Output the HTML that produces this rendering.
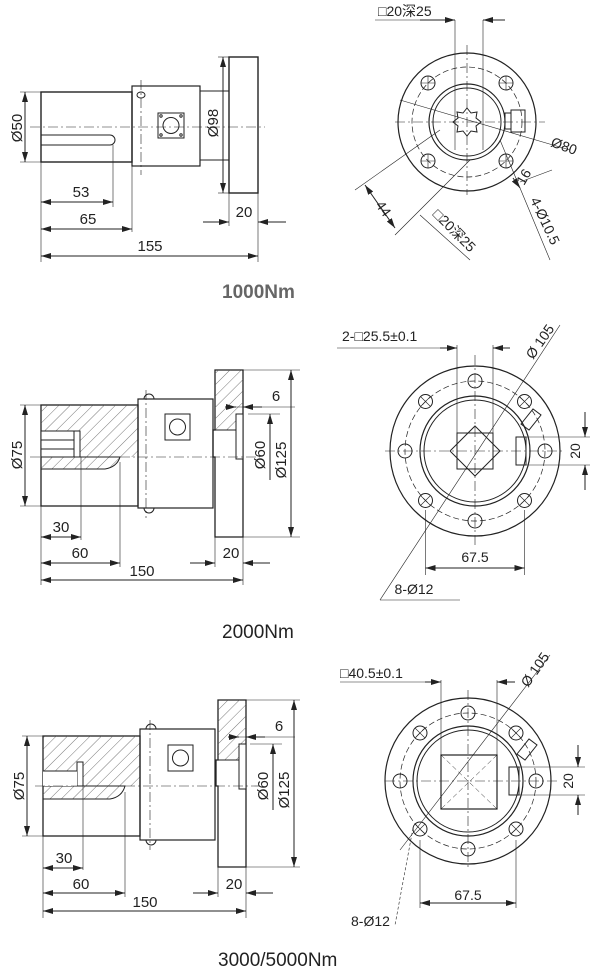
<!DOCTYPE html>
<html><head><meta charset="utf-8"><style>
html,body{margin:0;padding:0;background:#fff;}
svg{display:block;}
text{font-family:"Liberation Sans","Noto Sans CJK SC",sans-serif;fill:#222;}
</style></head><body>
<svg width="600" height="979" viewBox="0 0 600 979" xmlns="http://www.w3.org/2000/svg">
<defs>
<marker id="a" viewBox="0 0 10 6" refX="10" refY="3" markerWidth="10" markerHeight="6" orient="auto-start-reverse" markerUnits="userSpaceOnUse"><path d="M0,0 L10,3 L0,6 Z" fill="#222"/></marker>
<pattern id="h" width="8" height="8" patternUnits="userSpaceOnUse" patternTransform="rotate(45)"><line x1="0" y1="0" x2="0" y2="8" stroke="#555" stroke-width="0.8"/></pattern>
</defs>
<g fill="none" stroke="#222" stroke-width="1">

<!-- ===== 1000Nm side ===== -->
<rect x="41" y="92" width="91" height="70" stroke-width="1.4"/>
<path d="M41,135 H110 A5,5 0 0 1 110,145 H41"/>
<rect x="132" y="86" width="68" height="80" stroke-width="1.2"/>
<rect x="200" y="91" width="29" height="69"/>
<rect x="229" y="57" width="29" height="136" stroke-width="1.4"/>
<rect x="158" y="113" width="26" height="25"/>
<circle cx="171" cy="125.5" r="8"/>
<circle cx="161" cy="116" r="1.2"/><circle cx="181" cy="116" r="1.2"/><circle cx="161" cy="135" r="1.2"/><circle cx="181" cy="135" r="1.2"/>
<ellipse cx="141" cy="95" rx="4" ry="3"/>
<line x1="30" y1="127" x2="265" y2="127" stroke-dasharray="10,3,2,3" stroke-width="0.6"/>
<line x1="141" y1="80" x2="141" y2="175" stroke-dasharray="10,3,2,3" stroke-width="0.6"/>
<line x1="20" y1="92" x2="41" y2="92" stroke-width="0.6"/><line x1="20" y1="162" x2="41" y2="162" stroke-width="0.6"/>
<line x1="25" y1="92" x2="25" y2="162" marker-start="url(#a)" marker-end="url(#a)"/>
<line x1="218" y1="57" x2="229" y2="57" stroke-width="0.6"/><line x1="218" y1="193" x2="229" y2="193" stroke-width="0.6"/>
<line x1="223" y1="57" x2="223" y2="193" marker-start="url(#a)" marker-end="url(#a)"/>
<line x1="41" y1="162" x2="41" y2="262" stroke-width="0.6"/>
<line x1="113" y1="145" x2="113" y2="207" stroke-width="0.6"/>
<line x1="132" y1="166" x2="132" y2="232" stroke-width="0.6"/>
<line x1="258" y1="193" x2="258" y2="262" stroke-width="0.6"/>
<line x1="229" y1="193" x2="229" y2="226" stroke-width="0.6"/>
<line x1="41" y1="202" x2="113" y2="202" marker-start="url(#a)" marker-end="url(#a)"/>
<line x1="41" y1="229" x2="132" y2="229" marker-start="url(#a)" marker-end="url(#a)"/>
<line x1="41" y1="256" x2="258" y2="256" marker-start="url(#a)" marker-end="url(#a)"/>
<line x1="203" y1="222" x2="229" y2="222" marker-end="url(#a)"/>
<line x1="286" y1="222" x2="258" y2="222" marker-end="url(#a)"/>

<!-- ===== 1000Nm front ===== -->
<circle cx="467" cy="122" r="69" stroke-width="1.2"/>
<circle cx="467" cy="122" r="55" stroke-dasharray="6,3" stroke-width="0.7"/>
<circle cx="467" cy="122" r="38" stroke-width="1.2"/>
<circle cx="467" cy="122" r="34"/>
<circle cx="428" cy="83" r="7"/><circle cx="506" cy="83" r="7"/><circle cx="428" cy="161" r="7"/><circle cx="506" cy="161" r="7"/>
<path d="M428,76 v14 M421,83 h14 M506,76 v14 M499,83 h14 M428,154 v14 M421,161 h14 M506,154 v14 M499,161 h14" stroke-width="0.6"/>
<polygon points="467,108 471,113 477,112 476,118 481,122 476,126 477,132 471,131 467,136 463,131 457,132 458,126 453,122 458,118 457,112 463,113"/>
<rect x="505" y="113" width="6" height="16"/><rect x="511" y="110" width="14" height="22"/>
<line x1="395" y1="122" x2="545" y2="122" stroke-dasharray="10,3,2,3" stroke-width="0.6"/>
<line x1="467" y1="45" x2="467" y2="195" stroke-dasharray="10,3,2,3" stroke-width="0.6"/>
<line x1="455" y1="20" x2="455" y2="150" stroke-width="0.6"/><line x1="483" y1="20" x2="483" y2="150" stroke-width="0.6"/>
<line x1="375" y1="20" x2="455" y2="20" stroke-width="0.6"/>
<line x1="420" y1="20" x2="455" y2="20" marker-end="url(#a)"/><line x1="505" y1="20" x2="483" y2="20" marker-end="url(#a)"/>
<line x1="400" y1="100" x2="570" y2="150" stroke-width="0.6"/>
<line x1="355" y1="190" x2="440" y2="130" stroke-width="0.6"/><line x1="395" y1="235" x2="470" y2="160" stroke-width="0.6"/>
<line x1="365" y1="185" x2="395" y2="228" marker-start="url(#a)" marker-end="url(#a)"/>
<line x1="420" y1="215" x2="470" y2="260" stroke-width="0.6"/>
<line x1="500" y1="140" x2="550" y2="260" stroke-width="0.6"/>
<line x1="520" y1="182" x2="552" y2="170" stroke-width="0.6"/>
<line x1="513" y1="178" x2="520" y2="188" marker-end="url(#a)"/>

<!-- ===== 2000Nm side ===== -->
<rect x="41" y="405" width="97" height="101" stroke-width="1.3"/>
<path d="M41,405 H138 V457 H120 Q117,467 105,469 H41 Z" fill="url(#h)" stroke="none"/>
<path d="M41,457 H120 Q117,467 105,469 H41"/>
<rect x="41" y="431" width="39" height="26" fill="#fff"/>
<path d="M41,440 H74 M41,449 H74 M74,431 V457 M80,431 V457"/>
<rect x="138" y="399" width="75" height="109" stroke-width="1.2"/>
<path d="M144,399 a5,5 0 0 1 10,0 M144,508 a5,5 0 0 0 10,0"/>
<rect x="165" y="414" width="25" height="26"/>
<circle cx="177.5" cy="427" r="8"/>
<path d="M215,370 H243 V537 H215 V457 H213 V430 H215 Z" stroke-width="1.3"/>
<rect x="215" y="370" width="28" height="60" fill="url(#h)" stroke="none"/>
<rect x="236" y="414" width="7" height="45" fill="#fff"/>
<path d="M236,414 V459 M215,430 H236"/>
<line x1="30" y1="457" x2="260" y2="457" stroke-dasharray="10,3,2,3" stroke-width="0.6"/>
<line x1="146" y1="390" x2="146" y2="518" stroke-dasharray="10,3,2,3" stroke-width="0.6"/>
<line x1="20" y1="405" x2="41" y2="405" stroke-width="0.6"/><line x1="20" y1="506" x2="41" y2="506" stroke-width="0.6"/>
<line x1="25" y1="405" x2="25" y2="506" marker-start="url(#a)" marker-end="url(#a)"/>
<line x1="243" y1="370" x2="300" y2="370" stroke-width="0.6"/><line x1="243" y1="537" x2="300" y2="537" stroke-width="0.6"/>
<line x1="291" y1="370" x2="291" y2="537" marker-start="url(#a)" marker-end="url(#a)"/>
<line x1="248" y1="414" x2="280" y2="414" stroke-width="0.6"/>
<line x1="270" y1="414" x2="270" y2="480" marker-start="url(#a)"/>
<line x1="225" y1="407" x2="236" y2="407" marker-end="url(#a)"/><line x1="262" y1="407" x2="243" y2="407" marker-end="url(#a)"/>
<line x1="236" y1="407" x2="295" y2="407" stroke-width="0.6"/>
<line x1="41" y1="506" x2="41" y2="585" stroke-width="0.6"/>
<line x1="81" y1="457" x2="81" y2="540" stroke-width="0.6"/>
<line x1="120" y1="462" x2="120" y2="567" stroke-width="0.6"/>
<line x1="243" y1="537" x2="243" y2="585" stroke-width="0.6"/>
<line x1="215" y1="537" x2="215" y2="567" stroke-width="0.6"/>
<line x1="41" y1="537" x2="81" y2="537" marker-start="url(#a)" marker-end="url(#a)"/>
<line x1="41" y1="563" x2="120" y2="563" marker-start="url(#a)" marker-end="url(#a)"/>
<line x1="41" y1="580" x2="243" y2="580" marker-start="url(#a)" marker-end="url(#a)"/>
<line x1="190" y1="563" x2="215" y2="563" marker-end="url(#a)"/><line x1="270" y1="563" x2="243" y2="563" marker-end="url(#a)"/>

<!-- ===== 2000Nm front ===== -->
<circle cx="475" cy="451" r="85" stroke-width="1.2"/>
<circle cx="475" cy="451" r="70" stroke-dasharray="6,3" stroke-width="0.7"/>
<circle cx="475" cy="451" r="55" stroke-width="1.2"/>
<circle cx="475" cy="451" r="51"/>
<g>
<circle cx="475" cy="381" r="7"/><circle cx="475" cy="521" r="7"/><circle cx="405" cy="451" r="7"/><circle cx="545" cy="451" r="7"/>
<circle cx="425.5" cy="401.5" r="7"/><circle cx="524.5" cy="401.5" r="7"/><circle cx="425.5" cy="500.5" r="7"/><circle cx="524.5" cy="500.5" r="7"/>
</g>
<path d="M420.5,396.5 l10,10 M430.5,396.5 l-10,10 M519.5,396.5 l10,10 M529.5,396.5 l-10,10 M420.5,495.5 l10,10 M430.5,495.5 l-10,10 M519.5,495.5 l10,10 M529.5,495.5 l-10,10" stroke-width="0.6"/>
<rect x="457" y="433" width="36" height="36"/>
<polygon points="475,426 500,451 475,476 450,451"/>
<rect x="516" y="437" width="10" height="28"/>
<path d="M521,424 l12,-15 l8,6 l-12,15 z"/>
<line x1="385" y1="451" x2="565" y2="451" stroke-dasharray="10,3,2,3" stroke-width="0.6"/>
<line x1="475" y1="355" x2="475" y2="545" stroke-dasharray="10,3,2,3" stroke-width="0.6"/>
<line x1="457" y1="345" x2="457" y2="433" stroke-width="0.6"/><line x1="493" y1="345" x2="493" y2="433" stroke-width="0.6"/>
<line x1="337" y1="348" x2="457" y2="348" stroke-width="0.6"/>
<line x1="440" y1="348" x2="457" y2="348" marker-end="url(#a)"/><line x1="510" y1="348" x2="493" y2="348" marker-end="url(#a)"/>
<line x1="380" y1="600" x2="560" y2="325" stroke-width="0.6"/>
<line x1="380" y1="600" x2="460" y2="600" stroke-width="0.6"/>
<line x1="516" y1="437" x2="590" y2="437" stroke-width="0.6"/><line x1="516" y1="465" x2="590" y2="465" stroke-width="0.6"/>
<line x1="585" y1="412" x2="585" y2="437" marker-end="url(#a)"/><line x1="585" y1="490" x2="585" y2="465" marker-end="url(#a)"/>
<line x1="425.5" y1="510" x2="425.5" y2="575" stroke-width="0.6"/><line x1="524.5" y1="510" x2="524.5" y2="575" stroke-width="0.6"/>
<line x1="425.5" y1="568" x2="524.5" y2="568" marker-start="url(#a)" marker-end="url(#a)"/>

<!-- ===== 3000 side ===== -->
<rect x="43" y="736" width="97" height="100" stroke-width="1.3"/>
<path d="M43,736 H140 V786 H125 Q122,797 110,799 H43 Z" fill="url(#h)" stroke="none"/>
<path d="M43,786 H125 Q122,797 110,799 H43"/>
<rect x="77" y="762" width="6" height="24" fill="#fff"/>
<rect x="43" y="771" width="34" height="15" fill="#fff" stroke="none"/>
<line x1="43" y1="771" x2="77" y2="771"/>
<rect x="140" y="729" width="75" height="111" stroke-width="1.2"/>
<path d="M146,729 a5,5 0 0 1 10,0 M146,840 a5,5 0 0 0 10,0"/>
<rect x="168" y="745" width="25" height="26"/>
<circle cx="180.5" cy="758" r="8"/>
<path d="M218,700 H246 V867 H218 V786 H216 V760 H218 Z" stroke-width="1.3"/>
<rect x="218" y="700" width="28" height="60" fill="url(#h)" stroke="none"/>
<rect x="239" y="744" width="7" height="45" fill="#fff"/>
<path d="M239,744 V789 M218,760 H239"/>
<line x1="35" y1="786" x2="260" y2="786" stroke-dasharray="10,3,2,3" stroke-width="0.6"/>
<line x1="150" y1="720" x2="150" y2="850" stroke-dasharray="10,3,2,3" stroke-width="0.6"/>
<line x1="22" y1="736" x2="43" y2="736" stroke-width="0.6"/><line x1="22" y1="836" x2="43" y2="836" stroke-width="0.6"/>
<line x1="27" y1="736" x2="27" y2="836" marker-start="url(#a)" marker-end="url(#a)"/>
<line x1="246" y1="700" x2="300" y2="700" stroke-width="0.6"/><line x1="246" y1="867" x2="300" y2="867" stroke-width="0.6"/>
<line x1="294" y1="700" x2="294" y2="867" marker-start="url(#a)" marker-end="url(#a)"/>
<line x1="250" y1="744" x2="282" y2="744" stroke-width="0.6"/>
<line x1="273" y1="744" x2="273" y2="810" marker-start="url(#a)"/>
<line x1="228" y1="737" x2="239" y2="737" marker-end="url(#a)"/><line x1="265" y1="737" x2="246" y2="737" marker-end="url(#a)"/>
<line x1="239" y1="737" x2="295" y2="737" stroke-width="0.6"/>
<line x1="43" y1="836" x2="43" y2="918" stroke-width="0.6"/>
<line x1="83" y1="786" x2="83" y2="870" stroke-width="0.6"/>
<line x1="125" y1="792" x2="125" y2="897" stroke-width="0.6"/>
<line x1="246" y1="867" x2="246" y2="918" stroke-width="0.6"/>
<line x1="218" y1="867" x2="218" y2="897" stroke-width="0.6"/>
<line x1="43" y1="868" x2="83" y2="868" marker-start="url(#a)" marker-end="url(#a)"/>
<line x1="43" y1="893" x2="125" y2="893" marker-start="url(#a)" marker-end="url(#a)"/>
<line x1="43" y1="911" x2="246" y2="911" marker-start="url(#a)" marker-end="url(#a)"/>
<line x1="193" y1="893" x2="218" y2="893" marker-end="url(#a)"/><line x1="273" y1="893" x2="246" y2="893" marker-end="url(#a)"/>

<!-- ===== 3000 front ===== -->
<circle cx="468" cy="781" r="83" stroke-width="1.2"/>
<circle cx="468" cy="781" r="68" stroke-dasharray="6,3" stroke-width="0.7"/>
<circle cx="468" cy="781" r="55" stroke-width="1.2"/>
<circle cx="468" cy="781" r="51"/>
<circle cx="468" cy="713" r="7"/><circle cx="468" cy="849" r="7"/><circle cx="400" cy="781" r="7"/><circle cx="536" cy="781" r="7"/>
<circle cx="420" cy="733" r="7"/><circle cx="516" cy="733" r="7"/><circle cx="420" cy="829" r="7"/><circle cx="516" cy="829" r="7"/>
<path d="M415,728 l10,10 M425,728 l-10,10 M511,728 l10,10 M521,728 l-10,10 M415,824 l10,10 M425,824 l-10,10 M511,824 l10,10 M521,824 l-10,10" stroke-width="0.6"/>
<rect x="441" y="755" width="56" height="54" stroke-width="1.2"/>
<path d="M441,755 L497,809 M497,755 L441,809" stroke-dasharray="5,3" stroke-width="0.5"/>
<rect x="509" y="767" width="10" height="28"/>
<path d="M517,754 l12,-15 l8,6 l-12,15 z"/>
<line x1="385" y1="781" x2="560" y2="781" stroke-dasharray="10,3,2,3" stroke-width="0.6"/>
<line x1="468" y1="690" x2="468" y2="870" stroke-dasharray="10,3,2,3" stroke-width="0.6"/>
<line x1="441" y1="680" x2="441" y2="755" stroke-width="0.6"/><line x1="497" y1="680" x2="497" y2="755" stroke-width="0.6"/>
<line x1="340" y1="682" x2="441" y2="682" stroke-width="0.6"/>
<line x1="425" y1="682" x2="441" y2="682" marker-end="url(#a)"/><line x1="515" y1="682" x2="497" y2="682" marker-end="url(#a)"/>
<line x1="400" y1="850" x2="550" y2="655" stroke-width="0.6"/>
<line x1="413" y1="828" x2="395" y2="925" stroke-width="0.6" stroke-dasharray="3,2"/>
<line x1="509" y1="767" x2="585" y2="767" stroke-width="0.6"/><line x1="509" y1="795" x2="585" y2="795" stroke-width="0.6"/>
<line x1="578" y1="745" x2="578" y2="767" marker-end="url(#a)"/><line x1="578" y1="815" x2="578" y2="795" marker-end="url(#a)"/>
<line x1="420" y1="840" x2="420" y2="908" stroke-width="0.6"/><line x1="516" y1="840" x2="516" y2="908" stroke-width="0.6"/>
<line x1="420" y1="903" x2="516" y2="903" marker-start="url(#a)" marker-end="url(#a)"/>
</g>

<!-- ===== TEXT ===== -->
<g font-size="15">
<text x="22" y="128" transform="rotate(-90 22 128)" text-anchor="middle">Ø50</text>
<text x="218" y="123" transform="rotate(-90 218 123)" text-anchor="middle">Ø98</text>
<text x="81" y="197" text-anchor="middle">53</text>
<text x="88" y="224" text-anchor="middle">65</text>
<text x="150" y="251" text-anchor="middle">155</text>
<text x="244" y="217" text-anchor="middle">20</text>
<text x="222" y="298" font-size="19" font-weight="bold" style="fill:#666">1000Nm</text>

<text x="378" y="16" font-size="14">□20深25</text>
<text x="550" y="146" font-size="14" transform="rotate(20 550 146)">Ø80</text>
<text x="524" y="186" font-size="14" transform="rotate(-60 524 186)">16</text>
<text x="530" y="200" font-size="14" transform="rotate(65 530 200)">4-Ø10.5</text>
<text x="375" y="205" font-size="14" transform="rotate(55 375 205)">44</text>
<text x="432" y="215" font-size="14" transform="rotate(45 432 215)">□20深25</text>

<text x="22" y="455" transform="rotate(-90 22 455)" text-anchor="middle">Ø75</text>
<text x="265" y="455" transform="rotate(-90 265 455)" text-anchor="middle">Ø60</text>
<text x="286" y="460" transform="rotate(-90 286 460)" text-anchor="middle">Ø125</text>
<text x="276" y="401" text-anchor="middle">6</text>
<text x="61" y="532" text-anchor="middle">30</text>
<text x="80" y="558" text-anchor="middle">60</text>
<text x="142" y="576" text-anchor="middle">150</text>
<text x="231" y="558" text-anchor="middle">20</text>
<text x="222" y="638" font-size="19">2000Nm</text>

<text x="342" y="341" font-size="14">2-□25.5±0.1</text>
<text x="533" y="360" font-size="14" transform="rotate(-55 533 360)">Ø 105</text>
<text x="580" y="451" font-size="14" transform="rotate(-90 580 451)" text-anchor="middle">20</text>
<text x="475" y="562" font-size="14" text-anchor="middle">67.5</text>
<text x="414" y="594" font-size="14" text-anchor="middle">8-Ø12</text>

<text x="24" y="786" transform="rotate(-90 24 786)" text-anchor="middle">Ø75</text>
<text x="268" y="786" transform="rotate(-90 268 786)" text-anchor="middle">Ø60</text>
<text x="289" y="790" transform="rotate(-90 289 790)" text-anchor="middle">Ø125</text>
<text x="279" y="731" text-anchor="middle">6</text>
<text x="64" y="863" text-anchor="middle">30</text>
<text x="81" y="889" text-anchor="middle">60</text>
<text x="145" y="907" text-anchor="middle">150</text>
<text x="234" y="889" text-anchor="middle">20</text>
<text x="218" y="966" font-size="19">3000/5000Nm</text>

<text x="340" y="678" font-size="14">□40.5±0.1</text>
<text x="528" y="688" font-size="14" transform="rotate(-55 528 688)">Ø 105</text>
<text x="573" y="781" font-size="14" transform="rotate(-90 573 781)" text-anchor="middle">20</text>
<text x="468" y="900" font-size="14" text-anchor="middle">67.5</text>
<text x="351" y="926" font-size="14">8-Ø12</text>
</g>
</svg>
</body></html>
